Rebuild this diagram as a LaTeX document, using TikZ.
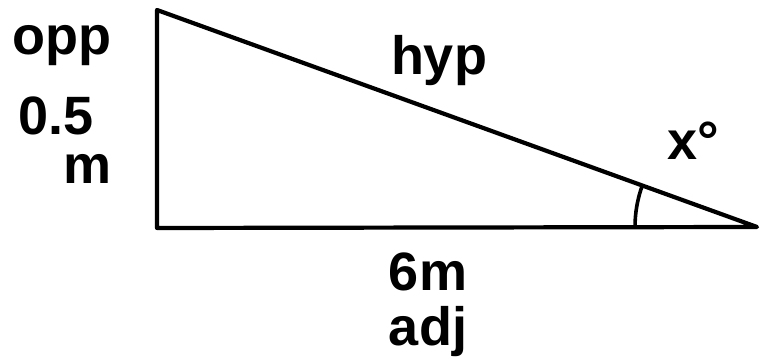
\documentclass[tikz,border=0pt]{standalone}
\usepackage{fontspec}
\setmainfont{Liberation Sans}
\begin{document}
\begin{tikzpicture}[x=1pt,y=1pt,
  lbl/.style={anchor=base,inner sep=0pt,font=\fontsize{54}{60}\selectfont\bfseries},
  edge/.style={line width=4.2pt,line join=round,line cap=round}]
\useasboundingbox (0,0) rectangle (760,363);
\coordinate (A) at (157,353);
\coordinate (B) at (157,135);
\coordinate (C) at (757,136);
\draw[edge] (A) -- (B) -- (C) -- cycle;
\draw[line width=3.6pt] (C) ++(180:122) arc[start angle=180,end angle=160.1,radius=122];
\node[lbl] (opp) at (62,308) {opp};
\node[lbl] (half) at (56,228) {0.5};
\node[lbl] (m) at (88,179) {m};
\node[lbl] (hyp) at (439,288) {hyp};
\node[lbl] (ang) at (693,203) {x°};
\node[lbl] (six) at (428,72) {6m};
\node[lbl] (adj) at (428,17) {adj};
\end{tikzpicture}
\end{document}
